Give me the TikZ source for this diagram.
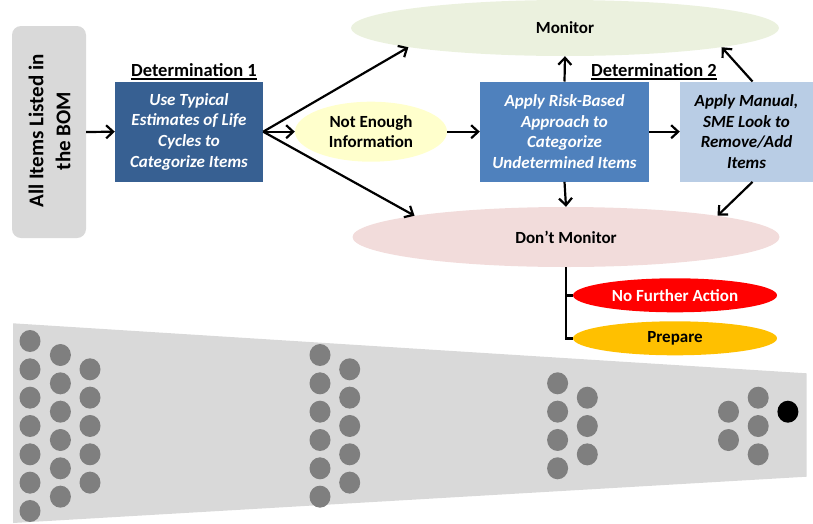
\documentclass[tikz,border=0pt]{standalone}
\usepackage{fontspec}
\setmainfont{Carlito}
\usetikzlibrary{arrows.meta,shapes.geometric}

\definecolor{panelgray}{HTML}{D9D9D9}
\definecolor{darkblue}{HTML}{376092}
\definecolor{midblue}{HTML}{4F81BD}
\definecolor{paleblue}{HTML}{B9CDE5}
\definecolor{paleyellow}{HTML}{FFFFCC}
\definecolor{palegreen}{HTML}{EBF1DE}
\definecolor{palepink}{HTML}{F2DCDB}
\definecolor{alertred}{HTML}{FF0000}
\definecolor{amber}{HTML}{FFC000}
\definecolor{dotgray}{HTML}{7F7F7F}

\tikzset{
  arr/.style={line width=2.2pt, -{Straight Barb[length=7pt,width=13pt]}},
  boxtext/.style={font=\bfseries\itshape\fontsize{17}{20.6}\selectfont, align=center},
  flowbox/.style={rectangle, inner sep=0pt, minimum height=100pt, boxtext},
  oval/.style={ellipse, inner sep=0pt, align=center,
               font=\bfseries\fontsize{17}{20.6}\selectfont},
  heading/.style={inner sep=0pt, anchor=base, font=\bfseries\fontsize{18.5}{22}\selectfont},
  uline/.style={line width=1.7pt},
}

\begin{document}
\begin{tikzpicture}[x=1pt,y=-1pt]
\useasboundingbox (0,0) rectangle (813,523);

% lower band with the item dots
\fill[panelgray] (13,323.3) -- (806.7,373.3) -- (806.7,476.7) -- (13,523) -- cycle;
\foreach \cx/\cy/\n in {30/341/7, 60.4/355/6, 90/369.3/5,
                        320/355/6, 349.7/369.3/5,
                        557.6/383.3/4, 587.3/397.7/3,
                        728.5/411.7/2, 758.2/397.7/3}{
  \foreach \k in {1,...,\n}{
    \fill[dotgray] (\cx,{\cy+(\k-1)*28.33}) ellipse [x radius=10.5pt, y radius=11pt];
  }
}
\fill[black] (787.9,411.7) ellipse [x radius=10.5pt, y radius=11pt];

% source panel
\node[fill=panelgray, rounded corners=9pt, minimum width=74pt, minimum height=212pt,
      inner sep=0pt] (bom) at (49,132) {};
\node[rotate=90, align=center, font=\bfseries\fontsize{21}{27}\selectfont]
      (bomtext) at (49.5,131) {All Items Listed in\\the BOM};

% outcome ovals
\node[oval, fill=palegreen, minimum width=428pt, minimum height=56pt] (mon) at (565,28) {Monitor};
\node[oval, fill=palepink, minimum width=427pt, minimum height=60pt] (dm) at (566,237) {Don’t Monitor};
\node[oval, fill=paleyellow, minimum width=152pt, minimum height=60pt] (ne) at (371,131.7) {Not Enough\\Information};
\node[oval, fill=alertred, text=white, minimum width=204pt, minimum height=34pt] (nfa) at (675,295.3) {No Further Action};
\node[oval, fill=amber, minimum width=204pt, minimum height=34pt] (prep) at (675,338.3) {Prepare};

% determination boxes
\node[flowbox, fill=darkblue, text=white, minimum width=148pt] (b1) at (189,131.7)
      {Use Typical\\Estimates of Life\\Cycles to\\Categorize Items};
\node[flowbox, fill=midblue, text=white, minimum width=169pt] (b2) at (564.5,131.7)
      {Apply Risk-Based\\Approach to\\Categorize\\Undetermined Items};
\node[flowbox, fill=paleblue, text=black, minimum width=133pt] (b3) at (746.5,131.7)
      {Apply Manual,\\SME Look to\\Remove/Add\\Items};

% headings
\node[heading] (d1) at (194,76) {Determination 1};
\draw[uline] ([yshift=-2.7pt]d1.base west) -- ([yshift=-2.7pt]d1.base east);
\node[heading] (d2) at (654,76) {Determination 2};
\draw[uline] ([yshift=-2.7pt]d2.base west) -- ([yshift=-2.7pt]d2.base east);

% connectors
\draw[arr] (bom.east) -- (b1.west);
\draw[arr] (b1.east) -- (ne.west);
\draw[arr] (b1.east) -- (mon.187);
\draw[arr] (b1.east) -- (dm.172);
\draw[arr] (ne.east) -- (b2.west);
\draw[arr] (b2.east) -- (b3.west);
\draw[arr] (b2.north) -- (mon.south);
\draw[arr] (b2.south) -- (dm.north);
\draw[arr] ([xshift=6pt]b3.north) -- (mon.353);
\draw[arr] ([xshift=6pt]b3.south) -- (dm.8);

% follow-up branches
\draw[line width=2.6pt] (dm.south) |- (nfa.west);
\draw[line width=2.6pt] (dm.south) |- (prep.west);
\end{tikzpicture}
\end{document}
